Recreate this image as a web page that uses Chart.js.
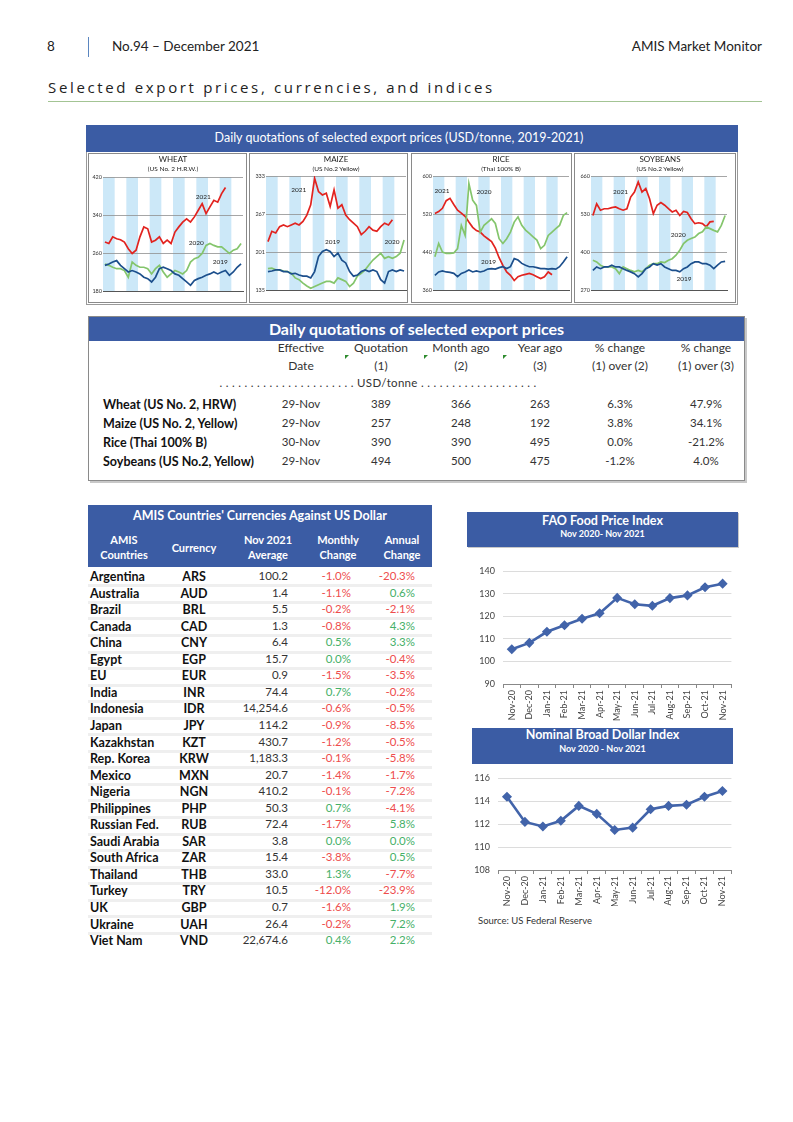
<!DOCTYPE html>
<html>
<head>
<meta charset="utf-8">
<script src="https://cdn.jsdelivr.net/npm/chart.js@4.4.0/dist/chart.umd.min.js"></script>
<style>
body { margin: 0; background: #fff; font-family: Lato, "Open Sans", sans-serif; color: #222; }
#page { position: relative; width: 793px; height: 1122px; overflow: hidden; }
.abs { position: absolute; white-space: nowrap; }
.blue { background: #3b5ca4; color: #fff; }
.panel { position: absolute; top: 153px; height: 150px; border: 1px solid #8a8a8a; box-sizing: border-box; background: #fff; }
.mt { position: absolute; font-size: 8px; text-align: center; width: 100px; margin-left: -50px; }
.ms { position: absolute; font-size: 6.5px; text-align: center; width: 100px; margin-left: -50px; }
.qh { position: absolute; font-size: 12px; color: #333; text-align: center; width: 90px; margin-left: -45px; }
.qd { position: absolute; font-size: 11.5px; color: #333; text-align: center; width: 70px; margin-left: -35px; }
.ql { position: absolute; left: 103px; font-size: 12.5px; font-weight: 700; color: #111; }
.cell { position: absolute; font-size: 11.5px; }
</style>
</head>
<body>
<div id="page">
  <div class="abs" style="left:47px;top:38px;font-size:13.5px;">8</div>
  <div class="abs" style="left:88px;top:37px;width:1px;height:20px;background:#5b86c0;"></div>
  <div class="abs" style="left:112px;top:38px;font-size:13.5px;">No.94 – December 2021</div>
  <div class="abs" style="right:31px;top:38px;font-size:13.5px;">AMIS Market Monitor</div>
  <div class="abs" style="left:48px;top:77px;font-size:15px;letter-spacing:2.65px;font-family:'Open Sans',sans-serif;">Selected export prices, currencies, and indices</div>
  <div class="abs" style="left:48px;top:101px;width:714px;height:1px;background:#a3c494;"></div>

  <!-- daily quotations charts -->
  <div class="abs" style="left:86px;top:125px;width:652px;height:180px;border:1px solid #9a9a9a;box-sizing:border-box;"></div>
  <div class="abs blue" style="left:86px;top:125px;width:652px;height:27px;"></div>
  <div class="abs" style="left:86px;top:130px;width:626px;text-align:center;font-size:12.5px;color:#fff;">Daily quotations of selected export prices (USD/tonne, 2019-2021)</div>

  <div class="panel" style="left:88px;width:159px;"><canvas id="wheat" width="157" height="148"></canvas></div>
  <div class="panel" style="left:249px;width:159px;"><canvas id="maize" width="157" height="148"></canvas></div>
  <div class="panel" style="left:411px;width:161px;"><canvas id="rice" width="159" height="148"></canvas></div>
  <div class="panel" style="left:574px;width:162px;"><canvas id="soy" width="160" height="148"></canvas></div>

  <div class="mt" style="left:173px;top:154px;">WHEAT</div>
  <div class="ms" style="left:173px;top:165px;">(US No. 2 H.R.W.)</div>
  <div class="mt" style="left:336px;top:154px;">MAIZE</div>
  <div class="ms" style="left:336px;top:165px;">(US No.2 Yellow)</div>
  <div class="mt" style="left:501px;top:154px;">RICE</div>
  <div class="ms" style="left:501px;top:165px;">(Thai 100% B)</div>
  <div class="mt" style="left:660px;top:154px;">SOYBEANS</div>
  <div class="ms" style="left:660px;top:165px;">(US No.2 Yellow)</div>

  <!-- quotation table -->
  <div class="abs" style="left:88px;top:316px;width:657px;height:165px;border:1px solid #8a8a8a;box-sizing:border-box;box-shadow:2px 2px 0 #c8c8c8;"></div>
  <div class="abs blue" style="left:89px;top:317px;width:655px;height:24px;text-align:center;font-weight:700;font-size:16px;line-height:23px;">Daily quotations of selected export prices</div>
  <div id="qtable"></div>

  <!-- currency table -->
  <div class="abs blue" style="left:88px;top:505px;width:344px;height:62px;"></div>
  <div class="abs" style="left:88px;top:508px;width:344px;text-align:center;color:#fff;font-weight:700;font-size:12.5px;">AMIS Countries' Currencies Against US Dollar</div>
  <div id="ctable"></div>

  <!-- FAO index -->
  <div class="abs blue" style="left:467px;top:512px;width:271px;height:35px;box-shadow:1px 1px 0 #c8c8c8;"></div>
  <div class="abs" style="left:467px;top:513px;width:271px;text-align:center;color:#fff;font-weight:700;font-size:12.5px;">FAO Food Price Index</div>
  <div class="abs" style="left:467px;top:528px;width:271px;text-align:center;color:#fff;font-weight:700;font-size:9px;">Nov 2020- Nov 2021</div>
  <div class="abs" style="left:467px;top:555px;"><canvas id="fao" width="271" height="170"></canvas></div>

  <!-- dollar index -->
  <div class="abs blue" style="left:472px;top:728px;width:261px;height:36px;"></div>
  <div class="abs" style="left:472px;top:727px;width:261px;text-align:center;color:#fff;font-weight:700;font-size:12.5px;">Nominal Broad Dollar Index</div>
  <div class="abs" style="left:472px;top:743px;width:261px;text-align:center;color:#fff;font-weight:700;font-size:9px;">Nov 2020 - Nov 2021</div>
  <div class="abs" style="left:467px;top:765px;"><canvas id="dollar" width="271" height="143"></canvas></div>
  <div class="abs" style="left:478px;top:915px;font-size:9.5px;color:#333;">Source: US Federal Reserve</div>
</div>

<script>
// month letters for the daily charts
const monthLetters = ['J','F','M','A','M','J','J','A','S','O','N','D'];

// daily quotations, sampled early / mid / late each month (USD/tonne)
const wheat2021 = [283,280,294, 290,288,283, 269,259,266, 294,315,311, 283,287,294, 280,287,280, 304,315,325, 332,325,336, 350,364,343, 357,371,367, 385,398];
const wheat2020 = [237,234,230, 227,227,223, 209,241,234, 230,230,227, 216,227,234, 220,209,216, 223,220,216, 223,241,248, 251,259,276, 280,276,273, 273,266,259, 266,269,280];
const wheat2019 = [234,237,241, 244,234,227, 220,223,220, 216,209,206, 199,209,227, 230,227,223, 216,213,206, 199,192,202, 206,209,213, 216,220,216, 220,223,213, 220,230,237];
const wheatTicks = [180,260,340,420];

const maize2021 = [219,237,234, 245,248,245, 248,251,248, 254,265,283, 329,306,300, 303,280,309, 277,283,265, 257,251,245, 231,237,245, 239,237,245, 251,248,257];
const maize2020 = [172,173,170, 170,168,167, 164,156,153, 147,142,138, 141,144,147, 150,150,147, 156,153,150, 141,147,159, 164,170,179, 187,193,199, 190,193,190, 193,199,222];
const maize2019 = [167,168,170, 170,167,167, 163,164,161, 159,159,156, 167,193,202, 205,202,193, 199,187,182, 167,159,161, 167,170,167, 170,167,153, 147,167,170, 167,170,168];
const maizeTicks = [135,201,267,333];

const rice2021 = [521,525,532, 548,553,540, 528,522,515, 503,492,485, 482,474,468, 462,448,428, 412,398,391, 380,388,391, 393,395,392, 388,384,388, 398,392];
const rice2020 = [430,458,440, 437,437,438, 447,496,475, 584,549,538, 482,496,503, 510,500,468, 458,468,482, 503,514,496, 486,479,472, 465,447,454, 475,482,489, 496,517,523];
const rice2019 = [391,398,400, 398,397,395, 388,395,398, 402,398,400, 398,400,404, 405,404,407, 409,405,409, 426,423,416, 412,409,409, 407,405,405, 404,405,404, 409,419,430];
const riceTicks = [360,440,520,600];

const soy2021 = [525,565,543, 548,548,552, 554,548,543, 548,588,605, 640,605,617, 582,531,560, 569,560,548, 537,543,525, 539,535,514, 497,500,497, 486,503,505];
const soy2020 = [372,366,355, 349,349,349, 343,326,349, 343,337,332, 337,332,343, 355,360,360, 366,364,372, 377,389,406, 429,440,446, 451,463,469, 486,480,474, 469,491,525];
const soy2019 = [337,349,343, 349,349,355, 349,349,343, 337,332,326, 315,326,343, 349,360,355, 360,349,343, 337,337,332, 343,349,360, 366,366,360, 360,355,343, 355,366,368];
const soyTicks = [270,400,530,660];

// quotation table
const qProducts = ['Wheat (US No. 2, HRW)','Maize (US No. 2, Yellow)','Rice (Thai 100% B)','Soybeans (US No.2, Yellow)'];
const qDates = ['29-Nov','29-Nov','30-Nov','29-Nov'];
const qQuote = [389,257,390,494];
const qMonthAgo = [366,248,390,500];
const qYearAgo = [263,192,495,475];
const qChg2 = ['6.3%','3.8%','0.0%','-1.2%'];
const qChg3 = ['47.9%','34.1%','-21.2%','4.0%'];

// currencies
const countries = ['Argentina','Australia','Brazil','Canada','China','Egypt','EU','India','Indonesia','Japan','Kazakhstan','Rep. Korea','Mexico','Nigeria','Philippines','Russian Fed.','Saudi Arabia','South Africa','Thailand','Turkey','UK','Ukraine','Viet Nam'];
const currencies = ['ARS','AUD','BRL','CAD','CNY','EGP','EUR','INR','IDR','JPY','KZT','KRW','MXN','NGN','PHP','RUB','SAR','ZAR','THB','TRY','GBP','UAH','VND'];
const avgNov = ['100.2','1.4','5.5','1.3','6.4','15.7','0.9','74.4','14,254.6','114.2','430.7','1,183.3','20.7','410.2','50.3','72.4','3.8','15.4','33.0','10.5','0.7','26.4','22,674.6'];
const monthlyChg = [-1.0,-1.1,-0.2,-0.8,0.5,0.0,-1.5,0.7,-0.6,-0.9,-1.2,-0.1,-1.4,-0.1,0.7,-1.7,0.0,-3.8,1.3,-12.0,-1.6,-0.2,0.4];
const annualChg = [-20.3,0.6,-2.1,4.3,3.3,-0.4,-3.5,-0.2,-0.5,-8.5,-0.5,-5.8,-1.7,-7.2,-4.1,5.8,0.0,0.5,-7.7,-23.9,1.9,7.2,2.2];

// indices
const idxMonths = ['Nov-20','Dec-20','Jan-21','Feb-21','Mar-21','Apr-21','May-21','Jun-21','Jul-21','Aug-21','Sep-21','Oct-21','Nov-21'];
const faoIndex = [105.4,108.2,113.1,116.0,118.9,121.3,128.1,125.3,124.6,128.0,129.2,132.8,134.4];
const dollarIndex = [114.4,112.2,111.8,112.3,113.6,112.9,111.5,111.7,113.3,113.6,113.7,114.4,114.9];

Chart.defaults.font.family = 'Lato, "Open Sans", sans-serif';
Chart.defaults.color = '#333';

const RED = '#e2231f', GREEN = '#84c56c', NAVY = '#1c4f8c';

/* shaded odd months */
const bandPlugin = {
  id: 'bands',
  beforeDraw(chart) {
    const { ctx, chartArea: a, scales: { x } } = chart;
    ctx.save();
    ctx.fillStyle = '#cce8f8';
    for (let m = 0; m < 12; m += 2) {
      const x0 = x.getPixelForValue(m), x1 = x.getPixelForValue(m + 1);
      ctx.fillRect(x0, a.top, x1 - x0, a.bottom - a.top);
    }
    ctx.restore();
  }
};

/* year labels next to the lines */
const yearLabelPlugin = {
  id: 'yearLabels',
  afterDatasetsDraw(chart, args, opts) {
    const { ctx, scales: { x, y } } = chart;
    ctx.save();
    ctx.font = '6.5px Lato, sans-serif';
    ctx.fillStyle = '#222';
    ctx.textAlign = 'center';
    ctx.textBaseline = 'middle';
    (opts.items || []).forEach(it => ctx.fillText(it.text, x.getPixelForValue(it.m), y.getPixelForValue(it.v)));
    ctx.restore();
  }
};

function toPoints(vals) {
  return vals.map((v, i) => ({ x: (i + 0.5) / 3, y: v }));
}

function miniChart(id, o) {
  const sets = [
    { data: toPoints(o.y2019), borderColor: NAVY },
    { data: toPoints(o.y2020), borderColor: GREEN },
    { data: toPoints(o.y2021), borderColor: RED }
  ].map(d => Object.assign(d, { borderWidth: 1.7, pointRadius: 0, tension: 0, fill: false }));

  new Chart(document.getElementById(id), {
    type: 'line',
    data: { datasets: sets },
    options: {
      responsive: false, animation: false,
      layout: { padding: { left: o.padL, right: o.padR, top: o.padT, bottom: o.padB } },
      plugins: { legend: { display: false }, tooltip: { enabled: false }, yearLabels: { items: o.labels } },
      scales: {
        x: {
          type: 'linear', min: 0, max: 12,
          afterBuildTicks: s => { s.ticks = monthLetters.map((m, i) => ({ value: i + 0.5 })); },
          ticks: { callback: v => monthLetters[Math.floor(v)], font: { size: 5.5 }, padding: 1, maxRotation: 0, autoSkip: false },
          grid: { display: false },
          border: { color: '#555' },
          afterFit: s => { s.height = 10; }
        },
        y: {
          min: o.ticks[0], max: o.ticks[o.ticks.length - 1],
          afterBuildTicks: s => { s.ticks = o.ticks.map(v => ({ value: v })); },
          ticks: { font: { size: 5.5 }, padding: 1 },
          grid: { color: '#8f8f8f', lineWidth: 0.8, drawTicks: false },
          border: { display: false },
          afterFit: s => { s.width = 13; }
        }
      }
    },
    plugins: [bandPlugin, yearLabelPlugin]
  });
}

miniChart('wheat', {
  y2021: wheat2021, y2020: wheat2020, y2019: wheat2019, ticks: wheatTicks,
  padL: 1, padR: 3, padT: 23, padB: 1,
  labels: [{ text: '2021', m: 8.6, v: 378 }, { text: '2020', m: 8.0, v: 282 }, { text: '2019', m: 10.05, v: 242 }]
});
miniChart('maize', {
  y2021: maize2021, y2020: maize2020, y2019: maize2019, ticks: maizeTicks,
  padL: 3, padR: 1, padT: 22, padB: 2,
  labels: [{ text: '2021', m: 2.8, v: 309 }, { text: '2019', m: 5.7, v: 219 }, { text: '2020', m: 10.8, v: 218 }]
});
miniChart('rice', {
  y2021: rice2021, y2020: rice2020, y2019: rice2019, ticks: riceTicks,
  padL: 8, padR: 2, padT: 22, padB: 2,
  labels: [{ text: '2021', m: 0.8, v: 568 }, { text: '2020', m: 4.5, v: 566 }, { text: '2019', m: 4.9, v: 419 }]
});
miniChart('soy', {
  y2021: soy2021, y2020: soy2020, y2019: soy2019, ticks: soyTicks,
  padL: 3, padR: 8, padT: 22, padB: 2,
  labels: [{ text: '2021', m: 2.6, v: 605 }, { text: '2020', m: 7.7, v: 457 }, { text: '2019', m: 8.2, v: 307 }]
});

/* quotation table */
(function () {
  const cols = [301, 381, 461, 540, 620, 706];
  const h1 = ['Effective','Quotation','Month ago','Year ago','% change','% change'];
  const h2 = ['Date','(1)','(2)','(3)','(1) over (2)','(1) over (3)'];
  let html = '';
  cols.forEach((c, i) => {
    html += `<div class="qh" style="left:${c}px;top:340px;">${h1[i]}</div>`;
    html += `<div class="qh" style="left:${c}px;top:358px;">${h2[i]}</div>`;
  });
  [345, 424, 503].forEach(x => {
    html += `<div class="abs" style="left:${x}px;top:355px;width:0;height:0;border-top:4px solid #2e8b2e;border-right:4px solid transparent;"></div>`;
  });
  html += `<div class="abs" style="left:172px;top:376px;width:412px;text-align:center;font-size:11.5px;color:#333;letter-spacing:0.3px;">. . . . . . . . . . . . . . . . . . . . . . USD/tonne . . . . . . . . . . . . . . . . . . .</div>`;
  const rows = [405, 424, 443, 462];
  qProducts.forEach((p, r) => {
    const y = rows[r] - 8;
    html += `<div class="ql" style="top:${y}px;">${p}</div>`;
    [qDates[r], qQuote[r], qMonthAgo[r], qYearAgo[r], qChg2[r], qChg3[r]].forEach((v, i) => {
      html += `<div class="qd" style="left:${cols[i]}px;top:${y}px;">${v}</div>`;
    });
  });
  document.getElementById('qtable').innerHTML = html;
})();

/* currency table */
(function () {
  const heads = [['AMIS','Countries',124],['Currency','',194],['Nov 2021','Average',268],['Monthly','Change',338],['Annual','Change',402]];
  let html = '';
  heads.forEach(h => {
    const single = h[1] === '';
    html += `<div class="abs" style="left:${h[2] - 45}px;top:${single ? 540 : 532}px;width:90px;text-align:center;color:#fff;font-weight:700;font-size:11px;line-height:15px;">${h[0]}${single ? '' : '<br>' + h[1]}</div>`;
  });
  const step = 16.55, first = 577;
  const pct = v => v.toFixed(1) + '%';
  const col = v => v < 0 ? '#ee4d4d' : '#45b068';
  countries.forEach((c, i) => {
    const cy = first + i * step;
    const top = cy - 8;
    if (i > 0) html += `<div class="abs" style="left:88px;top:${(cy - step / 2 - 1).toFixed(1)}px;width:344px;height:3px;background:#efefef;"></div>`;
    html += `<div class="cell" style="left:90px;top:${top}px;font-weight:700;font-size:12.5px;color:#111;">${c}</div>`;
    html += `<div class="cell" style="left:164px;top:${top}px;width:60px;text-align:center;font-weight:700;font-size:12.5px;color:#111;">${currencies[i]}</div>`;
    html += `<div class="cell" style="right:${793 - 288}px;top:${top}px;color:#333;">${avgNov[i]}</div>`;
    html += `<div class="cell" style="right:${793 - 351}px;top:${top}px;color:${col(monthlyChg[i])};">${pct(monthlyChg[i])}</div>`;
    html += `<div class="cell" style="right:${793 - 415}px;top:${top}px;color:${col(annualChg[i])};">${pct(annualChg[i])}</div>`;
  });
  document.getElementById('ctable').innerHTML = html;
})();

/* index line charts */
function indexChart(id, vals, ticks, o) {
  new Chart(document.getElementById(id), {
    type: 'line',
    data: {
      labels: idxMonths,
      datasets: [{
        data: vals, borderColor: '#4264aa', backgroundColor: '#4264aa', borderWidth: 2.6,
        pointStyle: 'rectRot', pointRadius: 3.2, tension: 0
      }]
    },
    options: {
      responsive: false, animation: false,
      layout: { padding: { left: 0, right: o.padR, top: o.padT, bottom: o.padB } },
      plugins: { legend: { display: false }, tooltip: { enabled: false } },
      scales: {
        x: {
          offset: true,
          ticks: { font: { size: 9 }, color: '#444', minRotation: 90, maxRotation: 90, autoSkip: false, padding: 2 },
          grid: { offset: true, drawOnChartArea: false, tickLength: 4, color: '#888' },
          border: { color: '#888' },
          afterFit: s => { s.height = o.xh; }
        },
        y: {
          min: ticks[0], max: ticks[ticks.length - 1],
          afterBuildTicks: s => { s.ticks = ticks.map(v => ({ value: v })); },
          ticks: { font: { size: 9 }, color: '#444', padding: 8 },
          grid: { color: '#dcdcdc', drawTicks: false },
          border: { display: false },
          afterFit: s => { s.width = o.yw; }
        }
      }
    }
  });
}

indexChart('fao', faoIndex, [90,100,110,120,130,140], { yw: 36, padR: 5, padT: 16, padB: 3, xh: 38 });
indexChart('dollar', dollarIndex, [108,110,112,114,116], { yw: 31, padR: 5, padT: 9, padB: 2, xh: 36 });
</script>
</body>
</html>
